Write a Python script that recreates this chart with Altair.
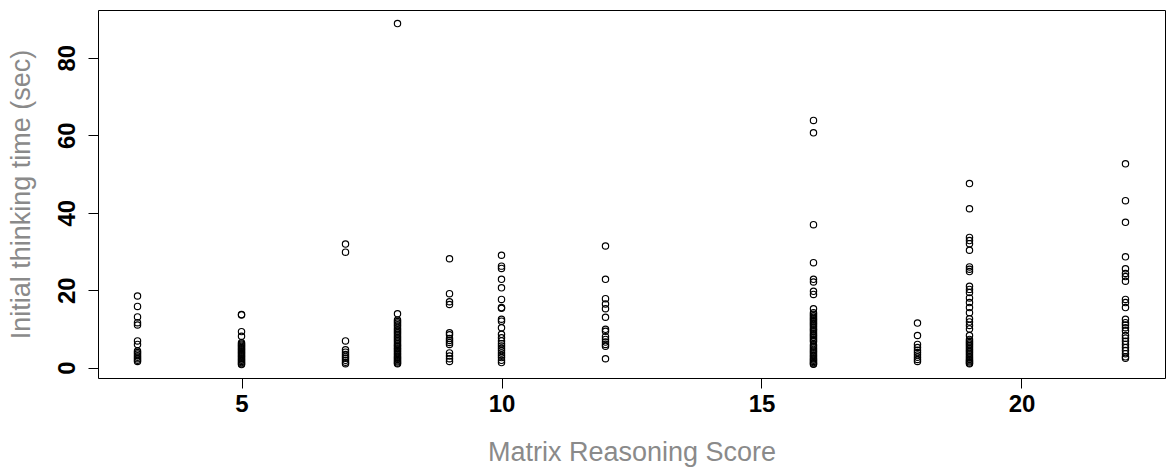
import altair as alt
import pandas as pd

# Initial thinking time (sec) for each Matrix Reasoning score group
score_3 = [18.5, 15.8, 13.1, 11.6, 11.0, 6.9, 6.0, 4.3, 3.9, 3.5, 3.1, 2.7, 2.3, 1.9, 1.6]
score_5 = [13.7, 13.6, 9.3, 8.1, 6.4, 6.1, 5.8, 5.5, 5.2, 4.9, 4.6, 4.3, 4.0, 3.7, 3.4,
           3.1, 2.8, 2.5, 2.2, 1.9, 1.6, 1.3, 1.0, 0.8]
score_7 = [31.9, 29.8, 6.9, 4.6, 4.0, 3.4, 2.9, 2.4, 1.9, 1.4, 1.0]
score_8 = [88.8, 13.9, 12.3, 11.9, 11.5, 11.1, 10.7, 10.2, 9.8, 9.4, 9.0, 8.6, 8.2, 7.8,
           7.4, 7.0, 6.6, 6.2, 5.8, 5.5, 5.1, 4.8, 4.4, 4.1, 3.7, 3.4, 3.0, 2.7, 2.4,
           2.1, 1.8, 1.5, 1.2, 1.0]
score_9 = [28.1, 19.1, 17.0, 16.3, 9.0, 8.5, 7.5, 7.0, 6.5, 6.0, 3.8, 3.0, 2.3, 1.6]
score_10 = [29.0, 26.2, 25.6, 22.8, 20.6, 17.6, 15.5, 15.3, 12.5, 12.0, 10.3, 8.6, 7.7,
            6.9, 6.2, 5.6, 5.0, 4.4, 3.8, 3.2, 2.6, 1.9, 1.3]
score_12 = [31.4, 22.8, 17.8, 16.4, 15.2, 13.0, 9.9, 9.4, 8.0, 7.3, 6.6, 6.0, 5.5, 2.3]
score_16 = [63.8, 60.6, 36.9, 27.1, 22.8, 22.1, 19.7, 18.9, 15.2, 14.2, 13.8, 13.4, 13.0,
            12.6, 12.3, 11.9, 11.5, 11.2, 10.8, 10.4, 10.0, 9.7, 9.3, 8.9, 8.5, 8.2,
            7.8, 7.4, 7.0, 6.7, 5.9, 5.5, 5.1, 4.7, 4.3, 4.0, 3.6, 3.2, 2.9, 2.5, 2.2,
            1.9, 1.6, 1.3, 1.0, 0.9]
score_18 = [11.5, 8.3, 6.0, 5.2, 4.5, 3.9, 3.3, 2.7, 2.1, 1.6]
score_19 = [47.5, 41.0, 33.6, 32.8, 32.0, 30.3, 26.0, 25.4, 24.8, 21.0, 20.2, 19.4, 18.0,
            16.8, 15.5, 14.2, 12.6, 11.8, 10.9, 10.0, 8.3, 7.3, 6.9, 6.5, 6.1, 5.7,
            5.3, 4.9, 4.5, 4.1, 3.7, 3.3, 2.9, 2.5, 2.1, 1.8, 1.5, 1.2, 1.0]
score_22 = [52.6, 43.1, 37.5, 28.6, 25.5, 24.3, 23.5, 22.3, 17.6, 16.8, 15.5, 12.5, 11.6,
            11.0, 10.3, 9.5, 8.3, 7.6, 6.8, 6.0, 5.2, 4.4, 3.6, 2.8, 2.4]

groups = {
    3: score_3, 5: score_5, 7: score_7, 8: score_8, 9: score_9, 10: score_10,
    12: score_12, 16: score_16, 18: score_18, 19: score_19, 22: score_22,
}

x_ticks = [5, 10, 15, 20]
y_ticks = [0, 20, 40, 60, 80]

rows = [{"score": s, "time": t} for s, times in groups.items() for t in times]
df = pd.DataFrame(rows)

FONT = "Liberation Sans"
TITLE_GRAY = "#8a8a8a"

W, H = 1067, 368

points = alt.Chart(df).mark_point(
    shape="circle", filled=False, color="black", size=40, strokeWidth=1.15, opacity=1
).encode(
    x=alt.X(
        "score:Q",
        scale=alt.Scale(domain=[2.24, 22.76], nice=False, zero=False),
        axis=alt.Axis(
            values=x_ticks,
            title="Matrix Reasoning Score",
            format="d",
            grid=False,
            domain=False,
            tickSize=10,
            tickColor="black",
            labelFont=FONT,
            labelFontSize=24,
            labelFontWeight="bold",
            labelColor="black",
            labelPadding=4,
            labelBaseline="top",
            titleFont=FONT,
            titleFontSize=27,
            titleFontWeight="normal",
            titleColor=TITLE_GRAY,
            titleX=W / 2,
            titleY=82,
            titleAlign="center",
            titleBaseline="alphabetic",
        ),
    ),
    y=alt.Y(
        "time:Q",
        scale=alt.Scale(domain=[-2.67, 92.3], nice=False, zero=False),
        axis=alt.Axis(
            values=y_ticks,
            title="Initial thinking time (sec)",
            format="d",
            grid=False,
            domain=False,
            tickSize=10,
            tickColor="black",
            labelFont=FONT,
            labelFontSize=24,
            labelFontWeight="bold",
            labelColor="black",
            labelAngle=270,
            labelAlign="center",
            labelBaseline="alphabetic",
            labelPadding=14,
            titleFont=FONT,
            titleFontSize=27,
            titleFontWeight="normal",
            titleColor=TITLE_GRAY,
            titleAngle=270,
            titleX=-77,
            titleY=H / 2,
            titleAlign="center",
            titleBaseline="middle",
        ),
    ),
)

chart = points.properties(
    width=W,
    height=H,
    autosize=alt.AutoSizeParams(type="none"),
    padding={"left": 98, "top": 10, "right": 6, "bottom": 92},
    background="white",
).configure_view(
    stroke="black", strokeWidth=1
)

chart.save("out.html", embed_options={"renderer": "svg", "actions": False})
